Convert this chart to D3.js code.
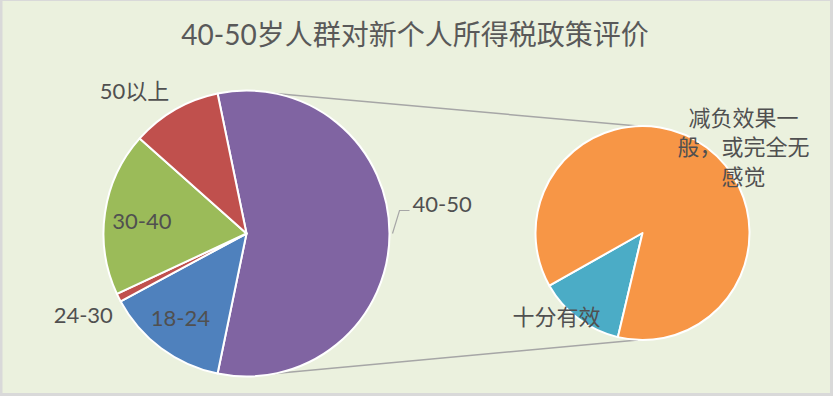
<!DOCTYPE html>
<html>
<head>
<meta charset="utf-8">
<script src="https://cdn.jsdelivr.net/npm/d3@7"></script>
<style>
    body { margin: 0; background: #fff; }
    svg { display: block; }
    text { font-family: Lato, "Noto Sans CJK SC", sans-serif; }
</style>
</head>
<body>
<div id="chart"></div>
<script>

// main pie: age groups, the "40-50" slice is broken out into the second pie
let ageGroups = ["18-24", "24-30", "30-40", "40-50", "50以上"];
let ageCounts = [15, 1, 20, 61, 11];
let splitGroup = "40-50";

// second pie: how the 40-50 group rates the policy
let ratingGroups = ["十分有效", "减负效果一般，或完全无感觉"];
let ratingCounts = [8, 53];

let chartTitle = "40-50岁人群对新个人所得税政策评价";


/* * * * * * * * * * * * * *
*      class PieOfPieVis      *
* * * * * * * * * * * * * */

class PieOfPieVis {

    constructor(parentElement){
        this.parentElement = parentElement;

        this.initVis()
    }

    initVis(){
        let vis = this;

        vis.width = 833;
        vis.height = 396;

        vis.main = {cx: 246.5, cy: 233.5, r: 143};
        vis.side = {cx: 642.5, cy: 233, r: 107};

        vis.colors = {
            "18-24": "#4F81BD",
            "24-30": "#C0504D",
            "30-40": "#9BBB59",
            "40-50": "#8064A2",
            "50以上": "#C0504D",
            "十分有效": "#4BACC6",
            "减负效果一般，或完全无感觉": "#F79646"
        };

        // label placement: angle-based, with small nudges like excel's best fit
        vis.labelLayout = {
            "18-24": {r: 0.74, anchor: "middle", dx: -3, dy: 0},
            "30-40": {r: 0.74, anchor: "middle", dx: 0, dy: 3},
            "24-30": {r: 1.085, anchor: "end", dx: 5, dy: 12},
            "50以上": {r: 1.08, anchor: "end", dx: 0, dy: -8},
            "十分有效": {r: 1.12, anchor: "middle", dx: -14, dy: -12},
            "减负效果一般，或完全无感觉": {r: 1.23, anchor: "middle", dx: 22, dy: 20}
        };

        vis.svg = d3.select("#" + vis.parentElement).append("svg")
            .attr("width", vis.width)
            .attr("height", vis.height);

        // frame + background
        vis.svg.append("rect")
            .attr("width", vis.width)
            .attr("height", vis.height)
            .attr("fill", "#D9D9D9");
        vis.svg.append("rect")
            .attr("x", 2.5)
            .attr("y", 1)
            .attr("width", vis.width - 5.5)
            .attr("height", vis.height - 4)
            .attr("fill", "#EBF1DE");

        vis.svg.append("text")
            .attr("x", 415)
            .attr("y", 45)
            .attr("text-anchor", "middle")
            .attr("font-size", 28)
            .attr("fill", "#595959")
            .text(chartTitle);

        vis.lineGroup = vis.svg.append("g");
        vis.mainGroup = vis.svg.append("g")
            .attr("transform", `translate(${vis.main.cx},${vis.main.cy})`);
        vis.sideGroup = vis.svg.append("g")
            .attr("transform", `translate(${vis.side.cx},${vis.side.cy})`);
        vis.labelGroup = vis.svg.append("g");

        vis.wrangleData();
    }

    wrangleData(){
        let vis = this

        // split slice first (centered on the right side), the rest follow clockwise
        let k = ageGroups.indexOf(splitGroup);
        let order = [splitGroup].concat(ageGroups.filter(g => g !== splitGroup));
        vis.mainData = order.map(g => ({name: g, value: ageCounts[ageGroups.indexOf(g)]}));

        let total = d3.sum(ageCounts);
        let splitAngle = ageCounts[k] / total * 2 * Math.PI;
        vis.mainStart = Math.PI / 2 - splitAngle / 2;

        vis.sideData = ratingGroups.map((g, i) => ({name: g, value: ratingCounts[i]}));
        vis.sideStart = 193.3 * Math.PI / 180;

        vis.updateVis()
    }

    updateVis(){
        let vis = this;

        let mainPie = d3.pie().sort(null).value(d => d.value)
            .startAngle(vis.mainStart).endAngle(vis.mainStart + 2 * Math.PI);
        let sidePie = d3.pie().sort(null).value(d => d.value)
            .startAngle(vis.sideStart).endAngle(vis.sideStart + 2 * Math.PI);

        let mainArc = d3.arc().innerRadius(0).outerRadius(vis.main.r);
        let sideArc = d3.arc().innerRadius(0).outerRadius(vis.side.r);

        let mainArcs = mainPie(vis.mainData);
        let sideArcs = sidePie(vis.sideData);

        // connector lines between the two pies
        let pt = (c, a, r) => [c.cx + r * Math.sin(a), c.cy - r * Math.cos(a)];
        let rad = d => d * Math.PI / 180;
        let connectors = [
            [pt(vis.main, rad(11.6), vis.main.r), pt(vis.side, rad(-2.5), vis.side.r)],
            [pt(vis.main, rad(168.4), vis.main.r), pt(vis.side, rad(182.5), vis.side.r)]
        ];
        vis.lineGroup.selectAll("line").data(connectors).join("line")
            .attr("x1", d => d[0][0]).attr("y1", d => d[0][1])
            .attr("x2", d => d[1][0]).attr("y2", d => d[1][1])
            .attr("stroke", "#A6A6A6")
            .attr("stroke-width", 1.5);

        vis.mainGroup.selectAll("path").data(mainArcs).join("path")
            .attr("d", mainArc)
            .attr("fill", d => vis.colors[d.data.name])
            .attr("stroke", "#fff")
            .attr("stroke-width", 2)
            .attr("stroke-linejoin", "round");

        vis.sideGroup.selectAll("path").data(sideArcs).join("path")
            .attr("d", sideArc)
            .attr("fill", d => vis.colors[d.data.name])
            .attr("stroke", "#fff")
            .attr("stroke-width", 2)
            .attr("stroke-linejoin", "round");

        // labels
        let placed = [];
        mainArcs.forEach(d => placed.push({arc: d, c: vis.main}));
        sideArcs.forEach(d => placed.push({arc: d, c: vis.side}));

        placed.forEach(p => {
            let name = p.arc.data.name;
            let mid = (p.arc.startAngle + p.arc.endAngle) / 2;

            if (name === splitGroup) {
                // leader line label on the right of the big slice
                let e = pt(p.c, mid, p.c.r + 3);
                let elbow = [e[0] + 7, e[1] - 23];
                let end = [elbow[0] + 10, elbow[1]];
                vis.labelGroup.append("polyline")
                    .attr("points", [e, elbow, end].map(q => q.join(",")).join(" "))
                    .attr("fill", "none")
                    .attr("stroke", "#A6A6A6")
                    .attr("stroke-width", 1.2);
                vis.labelGroup.append("text")
                    .attr("x", end[0] + 3)
                    .attr("y", end[1] + 1)
                    .attr("font-size", 22)
                    .attr("fill", "#505050")
                    .text(name);
                return;
            }

            let lay = vis.labelLayout[name];
            let q = pt(p.c, mid, p.c.r * lay.r);
            let lines = vis.wrapText(name, 6);
            let lh = 29.5;
            let t = vis.labelGroup.append("text")
                .attr("x", q[0] + lay.dx)
                .attr("y", q[1] + lay.dy - (lines.length - 1) * lh / 2)
                .attr("text-anchor", lay.anchor)
                .attr("font-size", 22)
                .attr("fill", "#505050");
            lines.forEach((l, i) => {
                t.append("tspan")
                    .attr("x", q[0] + lay.dx)
                    .attr("dy", i === 0 ? "0.35em" : lh)
                    .text(l);
            });
        });
    }

    // wrap by character count, a full width comma may not start a line
    wrapText(str, maxChars){
        let chars = Array.from(str);
        if (chars.length <= maxChars) return [str];
        let lines = [];
        let i = 0;
        while (i < chars.length) {
            let n = Math.min(maxChars, chars.length - i);
            if (i + n < chars.length && "，。、".includes(chars[i + n])) n -= 1;
            lines.push(chars.slice(i, i + n).join(""));
            i += n;
        }
        return lines;
    }
}

new PieOfPieVis("chart");

</script>
</body>
</html>
